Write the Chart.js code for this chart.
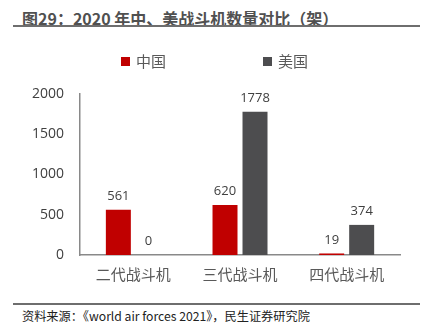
<!DOCTYPE html>
<html>
<head>
<meta charset="utf-8">
<script src="https://cdn.jsdelivr.net/npm/chart.js@4/dist/chart.umd.min.js"></script>
<style>
  html, body { margin: 0; padding: 0; background: #fff; }
  #page { position: relative; width: 424px; height: 332px; overflow: hidden; }
  #title { position: absolute; left: 22px; top: 6px; font: bold 16px "Noto Sans CJK SC", sans-serif; color: #505050; white-space: nowrap; }
  .rule { position: absolute; left: 13px; width: 407px; height: 0; border-top: 2px solid #6e6e6e; }
  #source { position: absolute; left: 22px; top: 307px; font: 12.2px "Noto Sans CJK SC", sans-serif; color: #222; white-space: nowrap; }
  #box { position: absolute; left: 0; top: 40px; width: 424px; height: 255px; }
  .leg { position: absolute; top: 51px; font: 15px "Noto Sans CJK SC", sans-serif; color: #595959; white-space: nowrap; line-height: 20px; }
  .leg i { display: inline-block; width: 9px; height: 9px; margin-right: 6px; vertical-align: 1px; }
</style>
</head>
<body>
<div id="page">
  <div id="title">图29：2020 年中、美战斗机数量对比（架）</div>
  <div class="rule" style="top:25px"></div>
  <div id="box"><canvas id="c"></canvas></div>
  <div id="legend"></div>
  <div class="rule" style="top:303px"></div>
  <div id="source">资料来源：《world air forces 2021》，民生证券研究院</div>
</div>
<script>
const categories = ['二代战斗机', '三代战斗机', '四代战斗机'];
const seriesNames = ['中国', '美国'];
const china = [561, 620, 19];
const usa = [0, 1778, 374];
const yTicks = [0, 500, 1000, 1500, 2000];

const COLORS = ['#C00000', '#4D4D4F'];

// legend in html, placed like the original
const legendX = [121, 263];
document.getElementById('legend').innerHTML = seriesNames.map((n, i) =>
  `<div class="leg" style="left:${legendX[i]}px"><i style="background:${COLORS[i]}"></i>${n}</div>`
).join('');

const valueLabels = {
  id: 'valueLabels',
  afterDatasetsDraw(chart) {
    const ctx = chart.ctx;
    ctx.save();
    ctx.font = '13px "Open Sans", sans-serif';
    ctx.fillStyle = '#404040';
    ctx.textAlign = 'center';
    ctx.textBaseline = 'bottom';
    chart.data.datasets.forEach((ds, i) => {
      chart.getDatasetMeta(i).data.forEach((bar, j) => {
        ctx.fillText(String(ds.data[j]), bar.x, bar.y - 7);
      });
    });
    ctx.restore();
  }
};

new Chart(document.getElementById('c'), {
  type: 'bar',
  data: {
    labels: categories,
    datasets: [
      { label: seriesNames[0], data: china, backgroundColor: COLORS[0] },
      { label: seriesNames[1], data: usa, backgroundColor: COLORS[1] }
    ]
  },
  options: {
    responsive: true,
    maintainAspectRatio: false,
    animation: false,
    categoryPercentage: 0.5625,
    barPercentage: 0.833,
    layout: { padding: { left: 16, right: 24, top: 54, bottom: 2 } },
    plugins: {
      tooltip: { enabled: false },
      legend: { display: false }
    },
    scales: {
      x: {
        grid: { display: false, drawTicks: false },
        border: { color: '#898989', width: 1.5 },
        ticks: {
          color: '#595959',
          padding: 10,
          font: { size: 15, family: '"Noto Sans CJK SC", sans-serif' }
        }
      },
      y: {
        min: 0,
        max: 2000,
        afterBuildTicks: s => { s.ticks = yTicks.map(v => ({ value: v })); },
        grid: { display: false, drawTicks: false },
        border: { color: '#898989', width: 1.5 },
        ticks: {
          color: '#404040',
          padding: 16,
          callback: v => String(v),
          font: { size: 14, family: '"Open Sans", sans-serif' }
        }
      }
    }
  },
  plugins: [valueLabels]
});
</script>
</body>
</html>
